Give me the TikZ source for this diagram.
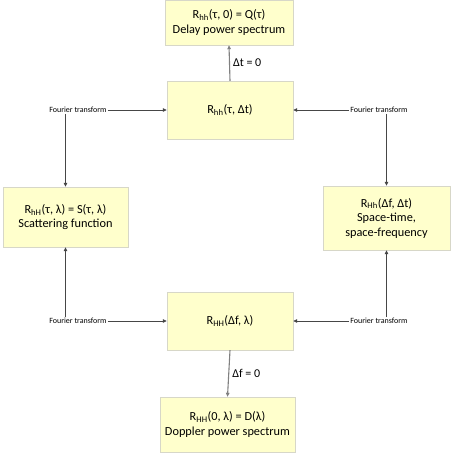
\documentclass[tikz,border=0pt]{standalone}
\usepackage{fontspec}
\setmainfont{Carlito}
\usepackage{tikz}
\usetikzlibrary{arrows.meta,shadows}
\definecolor{boxfill}{RGB}{255,255,204}
\definecolor{boxline}{RGB}{215,215,200}
\definecolor{arline}{RGB}{70,70,70}
\tikzset{b/.style={draw=boxline,fill=boxfill,align=center,font=\fontsize{12.3}{14.5}\selectfont,inner sep=2pt,drop shadow={opacity=0.25,shadow xshift=1.2pt,shadow yshift=-1.2pt}},
 ft/.style={font=\fontsize{8}{9}\selectfont,inner sep=1pt},
 ar/.style={draw=arline,line width=0.8pt,-{Triangle[length=4pt,width=3.5pt]}},
 lb/.style={font=\fontsize{12}{13}\selectfont,right,inner sep=3pt}}
\begin{document}
\begin{tikzpicture}[x=1pt,y=-1pt]
\useasboundingbox (0,0) rectangle (453,456);
% boxes
\node[b,minimum width=128pt,minimum height=45pt] (q) at (229,22.5) {R\textsubscript{hh}(τ, 0) = Q(τ)\\Delay power spectrum};
\node[b,minimum width=126pt,minimum height=58pt] (rt) at (230,110) {R\textsubscript{hh}(τ, Δt)};
\node[b,minimum width=125pt,minimum height=60pt] (s) at (65.5,217) {R\textsubscript{hH}(τ, λ) = S(τ, λ)\\Scattering function};
\node[b,minimum width=127pt,minimum height=64pt] (st) at (386.5,218) {R\textsubscript{Hh}(Δf, Δt)\\Space-time,\\space-frequency};
\node[b,minimum width=126pt,minimum height=58pt] (rf) at (230,321) {R\textsubscript{HH}(Δf, λ)};
\node[b,minimum width=135pt,minimum height=55pt] (d) at (227.5,424.5) {R\textsubscript{HH}(0, λ) = D(λ)\\Doppler power spectrum};
% fourier labels
\node[ft] (ft1) at (78,110) {Fourier transform};\node[ft] (ft2) at (379,110) {Fourier transform};
\node[ft] (ft3) at (78,321) {Fourier transform};\node[ft] (ft4) at (379,321) {Fourier transform};
% connectors
\draw[ar,draw=gray,line width=1.1pt] (rt.north) -- node[lb]{Δt = 0} (q.south);
\draw[ar,draw=gray,line width=1.1pt] (rf.south) -- node[lb]{Δf = 0} (d.south |- d.north);
\draw[ar] (ft1.east) -- (rt.west);\draw[ar] (ft2.west) -- (rt.east);
\draw[ar] (ft3.east) -- (rf.west);\draw[ar] (ft4.west) -- (rf.east);
\draw[ar] (ft1.south -| s.north) -- (s.north);\draw[ar] (ft2.south -| st.north) -- (st.north);
\draw[ar] (ft3.north -| s.south) -- (s.south);\draw[ar] (ft4.north -| st.south) -- (st.south);
\end{tikzpicture}
\end{document}
